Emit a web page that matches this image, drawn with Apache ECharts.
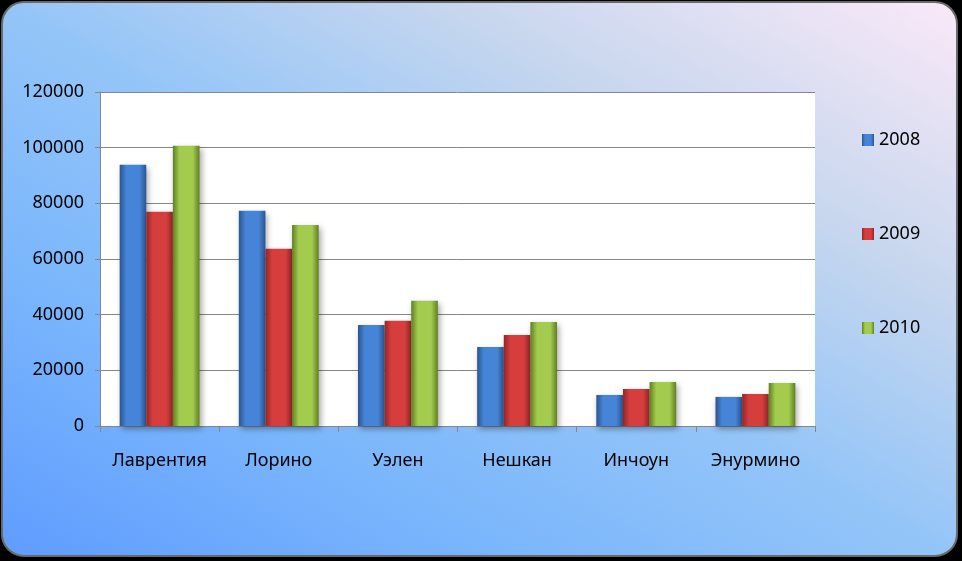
<!DOCTYPE html>
<html>
<head>
<meta charset="utf-8">
<script src="https://cdn.jsdelivr.net/npm/echarts@6/dist/echarts.min.js"></script>
<style>
html,body{margin:0;padding:0;background:#000;}
#c{width:962px;height:561px;}
</style>
</head>
<body>
<div id="c"></div>
<script>
var categories = ['Лаврентия', 'Лорино', 'Уэлен', 'Нешкан', 'Инчоун', 'Энурмино'];
var seriesNames = ['2008', '2009', '2010'];
var values2008 = [93900, 77300, 36300, 28400, 11150, 10450];
var values2009 = [77000, 63700, 37800, 32700, 13300, 11500];
var values2010 = [100700, 72200, 45000, 37400, 15800, 15450];
var yTicks = { min: 0, max: 120000, interval: 20000 };

var FONT = 'Noto Sans';
var chart = echarts.init(document.getElementById('c'), null, {renderer: 'canvas'});

function barGrad(edge, mid) {
  return new echarts.graphic.LinearGradient(0, 0, 1, 0, [
    {offset: 0, color: edge},
    {offset: 0.25, color: mid},
    {offset: 0.75, color: mid},
    {offset: 1, color: edge}
  ]);
}
var styles = [
  barGrad('#2a5590', '#4584d6'),
  barGrad('#922626', '#d63e3e'),
  barGrad('#5f7f22', '#a3cb4e')
];
var dataSets = [values2008, values2009, values2010];

var series = seriesNames.map(function (n, i) {
  return {
    name: n,
    type: 'bar',
    data: dataSets[i],
    barGap: '0%',
    barCategoryGap: '33%',
    itemStyle: {
      color: styles[i],
      shadowColor: 'rgba(0,0,0,0.35)',
      shadowBlur: 6,
      shadowOffsetX: 2,
      shadowOffsetY: 3
    }
  };
});

var bgFill = new echarts.graphic.LinearGradient(239, 693, 720, -135, [
  {offset: 0, color: '#5f9cff'},
  {offset: 0.26, color: '#7ab6fc'},
  {offset: 0.5, color: '#94c5f8'},
  {offset: 0.74, color: '#c8d7ee'},
  {offset: 1, color: '#fae9f8'}
], true);

chart.setOption({
  animation: false,
  backgroundColor: 'transparent',
  graphic: [{
    type: 'rect',
    z: -10,
    shape: {x: 2, y: 2, width: 955, height: 554, r: 22},
    style: {
      fill: bgFill,
      stroke: '#6a6a6a',
      lineWidth: 2
    }
  }],
  grid: {
    left: 100, right: 147, top: 92, bottom: 135,
    show: true, backgroundColor: '#ffffff', borderWidth: 0
  },
  legend: {
    orient: 'vertical',
    left: 862, top: 131,
    padding: 0,
    itemWidth: 12, itemHeight: 12,
    itemGap: 76,
    icon: 'rect',
    textStyle: {fontFamily: FONT, fontSize: 18, color: '#000'},
    data: seriesNames
  },
  xAxis: {
    type: 'category',
    data: categories,
    axisLine: {lineStyle: {color: '#868686', width: 1}},
    axisTick: {show: true, length: 6, lineStyle: {color: '#868686'}},
    axisLabel: {fontFamily: FONT, fontSize: 18, color: '#000', margin: 26, interval: 0}
  },
  yAxis: {
    type: 'value',
    min: yTicks.min, max: yTicks.max, interval: yTicks.interval,
    axisLine: {show: true, lineStyle: {color: '#868686', width: 1}},
    axisTick: {show: true, length: 5, lineStyle: {color: '#868686'}},
    splitLine: {lineStyle: {color: '#868686', width: 1}},
    axisLabel: {fontFamily: FONT, fontSize: 18, color: '#000', margin: 16,
      formatter: function (v) { return String(v); }}
  },
  series: series
});
</script>
</body>
</html>
